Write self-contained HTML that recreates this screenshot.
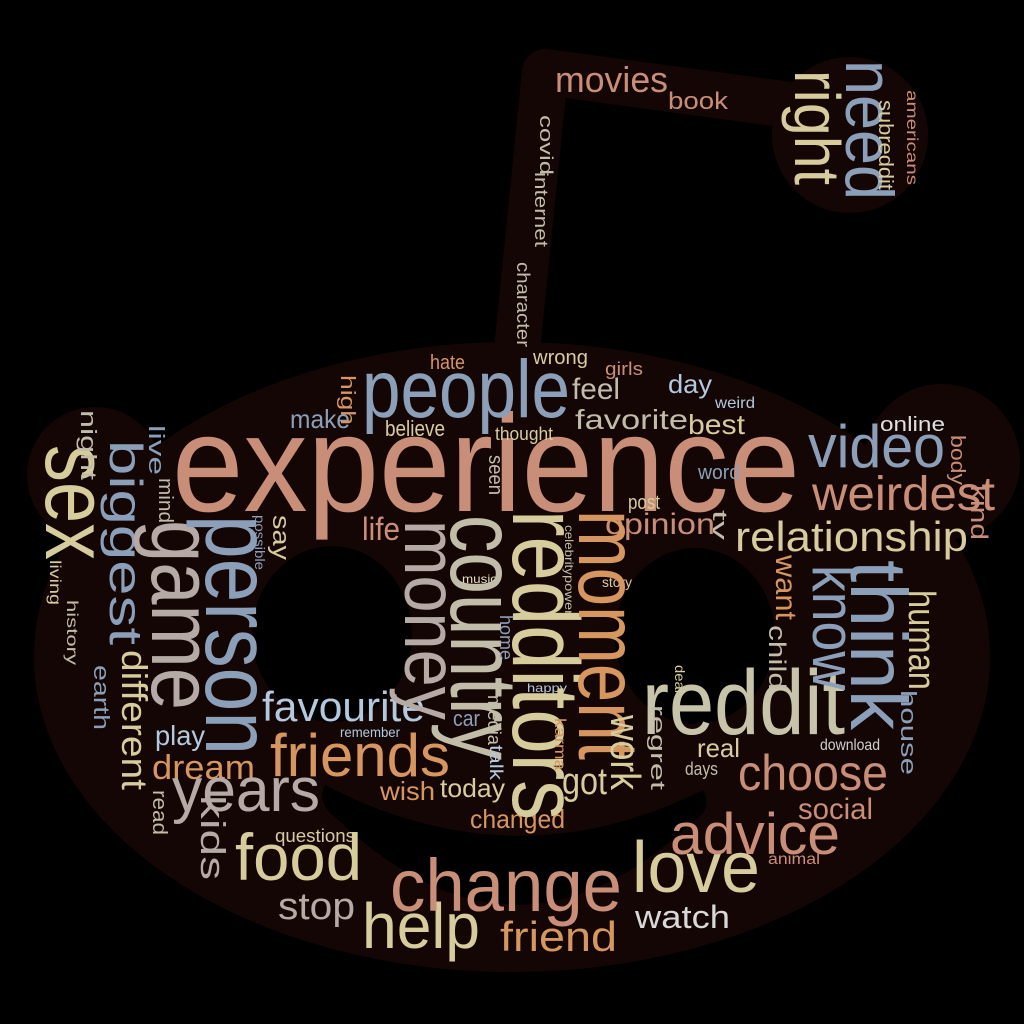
<!DOCTYPE html>
<html><head><meta charset="utf-8"><style>
html,body{margin:0;padding:0;background:#000;}
#stage{position:relative;width:1024px;height:1024px;overflow:hidden;background:#000;font-family:"Liberation Sans",sans-serif;}
#stage svg{position:absolute;left:0;top:0;}
.w{position:absolute;white-space:nowrap;line-height:1;transform-origin:0 0;}
</style></head><body>
<div id="stage">
<svg width="1024" height="1024">
  <g fill="#150606">
    <ellipse cx="512" cy="657" rx="478" ry="315"/>
    <circle cx="95" cy="475" r="68"/>
    <circle cx="942" cy="462" r="78"/>
    <circle cx="850" cy="135" r="78"/>
  </g>
  <path d="M515 370 L545 72 L790 105" fill="none" stroke="#150606" stroke-width="46" stroke-linejoin="round" stroke-linecap="round"/>
  <g fill="#000">
    <ellipse cx="332" cy="634" rx="80" ry="88"/>
    <ellipse cx="695" cy="636" rx="80" ry="88"/>
    <path d="M325 785 Q515 884 703 790 Q714 810 692 822 Q515 990 335 817 Q316 802 325 785 Z"/>
  </g>
</svg>
</div>
<script>
// [text, x(or baselineX), baseline(or yStart), length, fontSize, rotated, color]
const S="#c98e78",O="#d69660",T="#d6cc9c",G="#c2bda8",B="#8c9fb8",L="#b4c8de",R="#b5aaa5";
const words=[
["experience",172,512,628,138,0,S],
["people",362,418,208,82,0,B],
["feel",572,400,48,30,0,G],
["day",668,393,44,26,0,L],
["favorite",575,430,113,28,0,G],
["best",688,435,57,28,0,T],
["make",290,428,60,26,0,B],
["video",808,468,137,60,0,B],
["online",880,432,65,20,0,"#e0e0e0"],
["weirdest",812,512,183,48,0,S],
["relationship",735,552,233,42,0,T],
["opinion",605,535,110,30,0,S],
["post",628,510,32,20,0,T],
["word",698,480,42,20,0,B],
["life",362,540,38,32,0,S],
["favourite",262,722,163,42,0,L],
["friends",270,777,180,60,0,O],
["dream",152,780,103,34,0,O],
["play",155,746,50,28,0,L],
["years",172,812,148,62,0,R],
["food",235,880,127,66,0,T],
["stop",278,920,77,38,0,R],
["help",362,948,118,64,0,T],
["change",390,912,232,74,0,S],
["friend",500,952,117,42,0,O],
["love",632,893,128,72,0,T],
["watch",635,928,95,32,0,"#d8d8d8"],
["advice",670,855,170,58,0,S],
["choose",738,790,150,50,0,S],
["social",798,820,75,30,0,S],
["reddit",642,735,203,92,0,"#c8c4aa"],
["questions",275,842,80,18,0,T],
["wish",380,800,55,26,0,O],
["today",440,797,65,26,0,T],
["changed",470,828,95,26,0,O],
["got",562,795,45,38,0,T],
["real",697,757,43,26,0,T],
["days",685,775,33,18,0,G],
["remember",340,737,60,14,0,L],
["car",453,727,27,22,0,B],
["download",820,752,60,16,0,"#d0d0d0"],
["animal",768,866,52,16,0,S],
["hate",430,370,35,20,0,O],
["wrong",533,365,55,20,0,T],
["girls",605,375,38,18,0,S],
["believe",385,437,60,22,0,T],
["thought",495,440,58,18,0,T],
["movies",555,92,113,36,0,S],
["book",668,110,60,24,0,S],
["weird",715,410,40,16,0,L],
["happy",527,692,40,12,0,L],
["story",602,587,30,14,0,T],
["music",462,583,35,12,0,"#e8e0c0"],
// vertical (clockwise)
["sex",45,445,115,90,1,T],
["biggest",110,440,205,46,1,B],
["game",152,520,190,88,1,R],
["person",205,515,240,95,1,B],
["different",122,650,140,36,1,T],
["earth",93,665,65,22,1,B],
["kids",200,795,85,34,1,R],
["read",152,790,45,20,1,G],
["money",405,520,200,75,1,R],
["country",450,515,245,95,1,G],
["redditors",512,510,310,95,1,T],
["moment",578,510,250,85,1,O],
["know",812,565,125,60,1,B],
["think",850,560,170,80,1,B],
["human",908,590,100,38,1,T],
["house",900,690,85,22,1,B],
["want",775,555,65,30,1,O],
["child",768,625,65,24,1,G],
["work",610,715,75,42,1,T],
["regret",650,705,85,20,1,G],
["kind",970,485,55,24,1,S],
["body",950,435,50,20,1,S],
["right",795,70,115,64,1,T],
["need",845,60,140,68,1,B],
["subreddit",878,100,90,20,1,T],
["americans",905,90,95,16,1,S],
["covid",540,115,60,18,1,G],
["internet",535,172,75,18,1,G],
["character",517,262,85,18,1,G],
["night",80,410,70,22,1,G],
["live",148,425,50,22,1,B],
["mind",158,478,45,20,1,G],
["high",340,375,50,20,1,O],
["tv",712,510,30,20,1,G],
["media",488,695,50,18,1,G],
["talk",490,745,35,18,1,L],
["karma",553,718,52,16,1,O],
["seen",488,455,40,20,1,G],
["say",272,515,45,24,1,T],
["living",48,560,45,16,1,T],
["history",65,600,65,16,1,G],
["possible",255,515,55,14,1,B],
["deal",675,665,28,14,1,T],
["celebrity",565,525,50,12,1,G],
["power",565,575,40,12,1,G],
["home",500,615,45,18,1,B]
];
const stage=document.getElementById('stage');
for(const [txt,x,y,len,fs,rot,col] of words){
  const el=document.createElement('div');
  
  
  el.className='w';
  el.textContent=txt;
  el.style.fontSize=fs+'px';
  el.style.color=col;
  stage.appendChild(el);
  const mw=el.getBoundingClientRect().width||1;
  const sx=len/mw;
  if(!rot){
    el.style.left=x+'px';
    el.style.top=(y-0.846*fs)+'px';
    el.style.transform='scaleX('+sx+')';
  }else{
    el.style.left=(x+0.846*fs)+'px';
    el.style.top=y+'px';
    el.style.transform='rotate(90deg) scaleX('+sx+')';
  }
}
</script>
</body></html>
